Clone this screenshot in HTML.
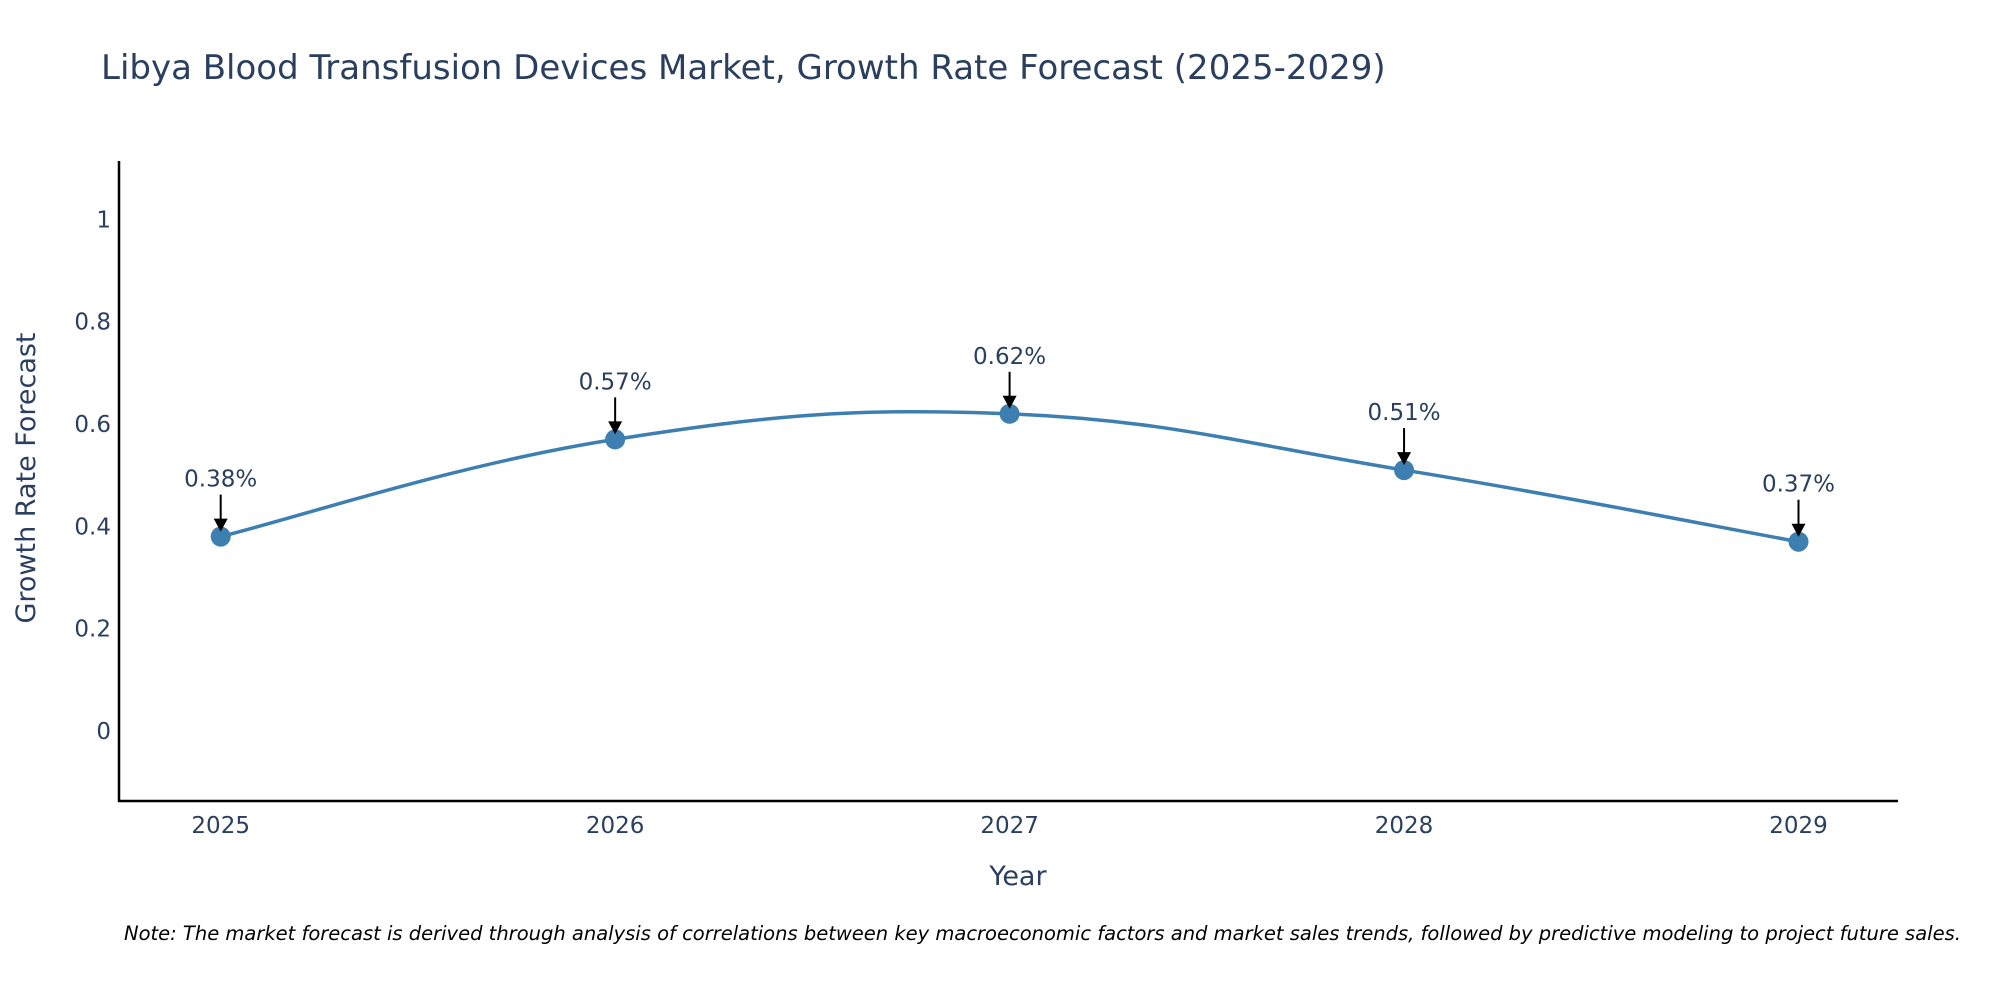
<!DOCTYPE html>
<html><head><meta charset="utf-8"><style>
body{margin:0;background:#fff;}
svg{display:block;font-family:"DejaVu Sans","Liberation Sans",sans-serif;}
</style></head><body>
<svg id="chart" width="2000" height="1000" viewBox="0 0 2000 1000">
<rect width="2000" height="1000" fill="#fff"/>
<text x="101" y="79" font-size="34" fill="#2a3f5f">Libya Blood Transfusion Devices Market, Growth Rate Forecast (2025-2029)</text>
<g id="yticks"></g>
<g id="xticks"></g>
<path id="line" fill="none" stroke="#3d7fb0" stroke-width="3.5"/>
<g id="points"></g>
<g id="annots"></g>
<line x1="119" y1="161" x2="119" y2="802" stroke="#000" stroke-width="2.5"/>
<line x1="118" y1="801" x2="1898" y2="801" stroke="#000" stroke-width="2.5"/>
<text x="1018" y="885" font-size="27" fill="#2a3f5f" text-anchor="middle">Year</text>
<text transform="translate(35,478) rotate(-90)" font-size="27" fill="#2a3f5f" text-anchor="middle">Growth Rate Forecast</text>
<text x="124" y="940" font-size="19.5" font-style="italic" fill="#000">Note: The market forecast is derived through analysis of correlations between key macroeconomic factors and market sales trends, followed by predictive modeling to project future sales.</text>
</svg>
<script>
const years = [2025, 2026, 2027, 2028, 2029];
const growth = [0.38, 0.57, 0.62, 0.51, 0.37];
const labels = ["0.38%", "0.57%", "0.62%", "0.51%", "0.37%"];
const yTicks = [0, 0.2, 0.4, 0.6, 0.8, 1];
const yTickLabels = ["0", "0.2", "0.4", "0.6", "0.8", "1"];

const NS = "http://www.w3.org/2000/svg";
const xs = v => 220.7 + (v - 2025) * (1798.5 - 220.7) / 4;
const ys = v => 731 - v * (731 - 219.4);
function mk(tag, attrs, parent){const e=document.createElementNS(NS,tag);for(const k in attrs)e.setAttribute(k,attrs[k]);parent.appendChild(e);return e;}

const yt=document.getElementById('yticks');
yTicks.forEach((v,i)=>{
  const t=mk('text',{x:111,y:ys(v)+8,'font-size':23,fill:'#2a3f5f','text-anchor':'end'},yt);
  
  
  t.textContent=yTickLabels[i];
});
const xt=document.getElementById('xticks');
years.forEach(v=>{
  const t=mk('text',{x:xs(v),y:833,'font-size':23,fill:'#2a3f5f','text-anchor':'middle'},xt);
  
  
  t.textContent=String(v);
});

const P=years.map((y,i)=>[xs(y),ys(growth[i])]);
let d=`M${P[0][0]},${P[0][1]}`;
const s=0.2;
for(let i=0;i<P.length-1;i++){
  const p0=P[i-1]||P[i],p1=P[i],p2=P[i+1],p3=P[i+2]||P[i+1];
  const c1=[p1[0]+(p2[0]-p0[0])*s,p1[1]+(p2[1]-p0[1])*s];
  const c2=[p2[0]-(p3[0]-p1[0])*s,p2[1]-(p3[1]-p1[1])*s];
  d+=` C${c1[0]},${c1[1]} ${c2[0]},${c2[1]} ${p2[0]},${p2[1]}`;
}
document.getElementById('line').setAttribute('d',d);

const pts=document.getElementById('points');
const an=document.getElementById('annots');
P.forEach((p,i)=>{
  const c=mk('circle',{cx:p[0],cy:p[1],r:10,fill:'#3d7fb0'},pts);
  
  
  const l=mk('line',{x1:p[0],y1:p[1]-42,x2:p[0],y2:p[1]-16,stroke:'#000','stroke-width':2},an);
  
  
  const h=mk('path',{d:`M${p[0]-7},${p[1]-18} L${p[0]+7},${p[1]-18} L${p[0]},${p[1]-5} Z`,fill:'#000'},an);
  
  
  const t=mk('text',{x:p[0],y:p[1]-50,'font-size':23,fill:'#2a3f5f','text-anchor':'middle'},an);
  
  
  t.textContent=labels[i];
});
</script>
</body></html>
